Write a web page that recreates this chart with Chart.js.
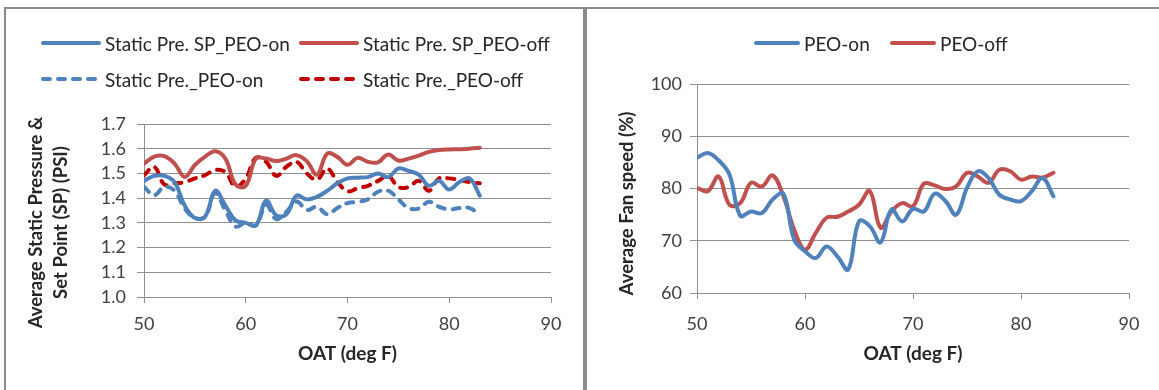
<!DOCTYPE html>
<html><head><meta charset="utf-8">
<script src="https://cdn.jsdelivr.net/npm/chart.js@4"></script>
<style>
html,body{margin:0;padding:0;background:#fff;}
body{width:1159px;height:390px;position:relative;overflow:hidden;font-family:Lato,'Liberation Sans',sans-serif;}
.panel{position:absolute;border:2px solid #8a8a8a;border-bottom:none;box-sizing:border-box;}
#p1{left:4px;top:7px;width:581px;height:400px;}
#p2{left:585px;top:7px;width:600px;height:400px;}
canvas{position:absolute;}
#c1{left:0;top:0;}
#c2{left:586px;top:0;}
.item{position:absolute;display:flex;align-items:center;white-space:nowrap;font-size:19px;color:#262626;height:24px;}
.item svg{margin-right:4px;}
</style></head>
<body>
<div class="panel" id="p1"></div>
<div class="panel" id="p2"></div>
<canvas id="c1" width="585" height="390"></canvas>
<canvas id="c2" width="573" height="390"></canvas>
<div id="legend1"></div>
<div id="legend2"></div>
<script>
// ---- data ----
const oat = [50,51,52,53,54,55,56,57,58,59,60,61,62,63,64,65,66,67,68,69,70,71,72,73,74,75,76,77,78,79,80,81,82,83];
const spOn  = [1.47,1.49,1.49,1.465,1.37,1.32,1.325,1.43,1.37,1.31,1.30,1.29,1.39,1.33,1.335,1.41,1.395,1.405,1.43,1.46,1.48,1.483,1.485,1.50,1.485,1.52,1.51,1.495,1.45,1.47,1.435,1.465,1.48,1.41];
const spOff = [1.54,1.568,1.57,1.54,1.486,1.534,1.568,1.59,1.56,1.455,1.45,1.56,1.56,1.55,1.56,1.574,1.55,1.495,1.58,1.567,1.535,1.563,1.547,1.545,1.577,1.552,1.56,1.572,1.587,1.595,1.597,1.598,1.60,1.604];
const preOn  = [1.446,1.412,1.446,1.43,1.358,1.32,1.325,1.42,1.35,1.285,1.30,1.29,1.372,1.315,1.345,1.386,1.352,1.365,1.335,1.36,1.38,1.385,1.395,1.426,1.43,1.395,1.36,1.358,1.385,1.365,1.355,1.36,1.36,1.332];
const preOff = [1.493,1.527,1.455,1.46,1.465,1.48,1.493,1.514,1.505,1.446,1.48,1.563,1.547,1.49,1.527,1.547,1.50,1.475,1.52,1.466,1.428,1.44,1.45,1.47,1.49,1.445,1.445,1.47,1.43,1.48,1.48,1.473,1.465,1.46];
const fanOn  = [85.9,86.8,85.4,82.7,74.8,75.6,75.3,77.9,79.0,70.2,68.0,66.7,68.9,67.0,64.5,73.7,72.8,69.7,76.0,73.7,76.1,75.6,79.0,77.6,75.0,80.1,83.3,82.0,78.8,77.9,77.6,79.5,82.0,78.5];
const fanOff = [80.1,79.5,82.3,76.9,77.2,81.1,80.4,82.5,78.5,72.1,68.3,71.5,74.4,74.6,75.6,76.9,79.5,72.5,75.6,77.2,76.6,80.9,80.6,79.9,80.4,83.0,82.3,81.1,83.6,83.3,81.7,82.3,82.1,83.0];
const xTicks = [50,60,70,80,90];
const yTicksLeft = [1.0,1.1,1.2,1.3,1.4,1.5,1.6,1.7];
const yTicksRight = [60,70,80,90,100];
const labelsLeft = ['Static Pre. SP_PEO-on','Static Pre. SP_PEO-off','Static Pre._PEO-on','Static Pre._PEO-off'];
const labelsRight = ['PEO-on','PEO-off'];
const xTitle = 'OAT (deg F)';
const yTitleLeft = ['Average Static Pressure &','Set Point (SP) (PSI)'];
const yTitleRight = 'Average Fan speed (%)';

// ---- styling ----
const BLUE='#4F81BD', RED='#C0504D', DRED='#C00000';
const FONT='Lato, "Liberation Sans", sans-serif';
const GRID='#8f8f8f';
const pts = arr => oat.map((x,i)=>({x:x,y:arr[i]}));
function ds(label, arr, color, dash){
  return {label:label, data:pts(arr), borderColor:color, backgroundColor:color, borderWidth:4,
    borderDash:dash?[7,8]:[], borderCapStyle:'round', borderJoinStyle:'round', tension:0.4, pointRadius:0, fill:false};
}
function setTicks(vals){ return s=>{ s.ticks = vals.map(v=>({value:v})); }; }

// shifts the y-axis title downward a little (the original centres it lower than the plot centre)
const titleShift = {
  id:'titleShift',
  afterLayout(chart, args, o){
    const s = chart.scales.y;
    if (!s || s._shifted) return;
    const orig = s.drawTitle.bind(s);
    s.drawTitle = function(area){ const ctx=this.ctx; ctx.save(); ctx.translate(0, o.dy||0); orig(area); ctx.restore(); };
    s._shifted = true;
  }
};

function makeChart(id, datasets, opt){
  return new Chart(document.getElementById(id), {
    type:'line',
    data:{datasets:datasets},
    plugins:[titleShift],
    options:{
      responsive:false, animation:false, devicePixelRatio:1,
      layout:{padding:{left:0, top:opt.top, right:opt.right, bottom:0}},
      plugins:{legend:{display:false}, tooltip:{enabled:false}, titleShift:{dy:opt.dy}},
      scales:{
        x:{type:'linear', min:50, max:90, afterBuildTicks:setTicks(xTicks),
          afterFit:s=>{s.height=opt.xh;},
          grid:{drawOnChartArea:false, drawTicks:true, tickLength:6, color:GRID},
          border:{display:true, color:GRID, width:1},
          ticks:{font:{family:FONT,size:18}, color:'#404040', padding:opt.xpad, maxRotation:0},
          title:{display:true, text:xTitle, font:{family:FONT,size:19,weight:'bold',lineHeight:'20px'}, color:'#262626', padding:{top:0,bottom:26}}
        },
        y:{min:opt.ymin, max:opt.ymax, afterBuildTicks:setTicks(opt.yticks),
          afterFit:s=>{s.width=opt.yw;},
          grid:{drawOnChartArea:true, drawTicks:true, tickLength:7, color:GRID},
          border:{display:true, color:GRID, width:1},
          ticks:{font:{family:FONT,size:18}, color:'#404040', padding:opt.ypad, callback:opt.fmt},
          title:{display:true, text:opt.ytitle, font:{family:FONT,size:18.5,weight:'bold',lineHeight:opt.ylh}, color:'#262626', padding:{top:opt.ytpad,bottom:0}}
        }
      }
    }
  });
}

const c1 = makeChart('c1', [
  ds(labelsLeft[0], spOn, BLUE, false),
  ds(labelsLeft[1], spOff, RED, false),
  ds(labelsLeft[2], preOn, BLUE, true),
  ds(labelsLeft[3], preOff, DRED, true)
], {top:124, right:34, xh:93, xpad:10, ymin:1.0, ymax:1.7, yticks:yTicksLeft, yw:144, ypad:11,
    fmt:v=>Number(v).toFixed(1), ytitle:yTitleLeft, ylh:'25px', ytpad:24, dy:12});

const c2 = makeChart('c2', [
  ds(labelsRight[0], fanOn, BLUE, false),
  ds(labelsRight[1], fanOff, RED, false)
], {top:84, right:30, xh:97, xpad:14, ymin:60, ymax:100, yticks:yTicksRight, yw:111, ypad:8,
    fmt:v=>String(v), ytitle:yTitleRight, ylh:'20px', ytpad:31, dy:15});

// ---- HTML legends built from the chart datasets ----
function legend(container, chart, places, sampleW){
  const el = document.getElementById(container);
  chart.data.datasets.forEach((d,i)=>{
    const p = places[i];
    const div = document.createElement('div');
    div.className='item';
    div.style.left=p[0]+'px'; div.style.top=(p[1]-12)+'px';
    const dash = d.borderDash.length ? ' stroke-dasharray="'+d.borderDash.join(' ')+'"' : '';
    div.innerHTML = '<svg width="'+(sampleW+4)+'" height="8"><line x1="2" y1="4" x2="'+(sampleW+2)+'" y2="4" stroke="'+d.borderColor+'" stroke-width="4" stroke-linecap="round"'+dash+'/></svg>';
    const t = document.createElement('span'); t.textContent = d.label; div.appendChild(t);
    el.appendChild(div);
  });
}
legend('legend1', c1, [[41,43],[299,43],[41,79],[299,79]], 56);
legend('legend2', c2, [[754,43],[890,43]], 42);
</script>
</body></html>
